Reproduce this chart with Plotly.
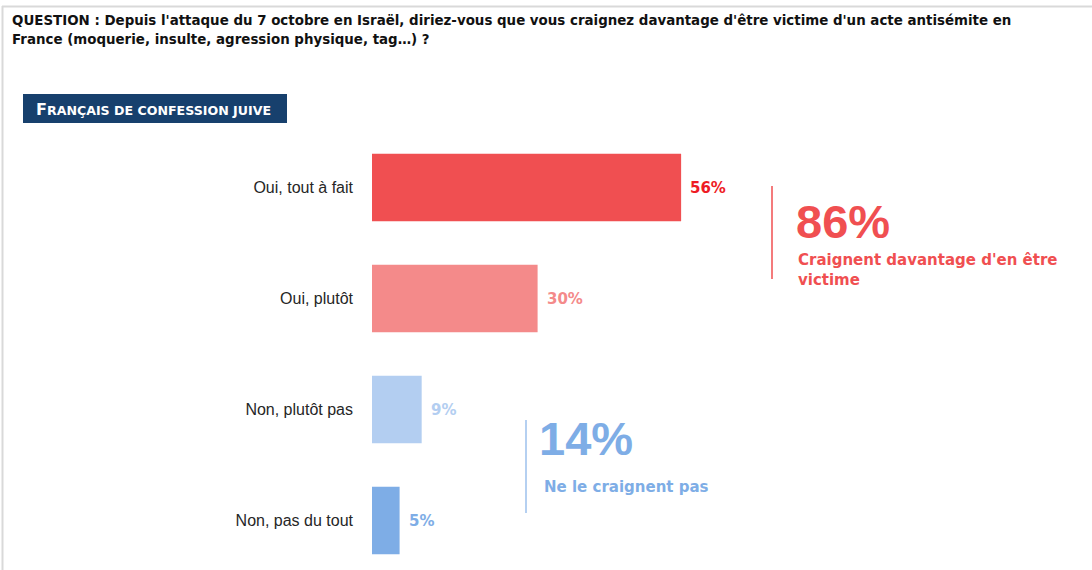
import plotly.graph_objects as go

categories = ["Oui, tout à fait", "Oui, plutôt", "Non, plutôt pas", "Non, pas du tout"]
values = [56, 30, 9, 5]
value_labels = ["56%", "30%", "9%", "5%"]
bar_colors = ["#F04F51", "#F48A8A", "#B3CEF1", "#7EADE6"]
label_colors = ["#EE1C25", "#F48A8A", "#B3CEF1", "#7EADE6"]
summary_values = ["86%", "14%"]
summary_texts = ["Craignent davantage d'en être<br>victime", "Ne le craignent pas"]
title_lines = [
    "QUESTION : Depuis l'attaque du 7 octobre en Israël, diriez-vous que vous craignez davantage d'être victime d'un acte antisémite en",
    "France (moquerie, insulte, agression physique, tag…) ?",
]

W, H = 1092, 570
L, T = 372, 132
PW, PH = W - L, H - T
PX_PER_PCT = 5.52
XMAX = PW / PX_PER_PCT
ROW = 111.0
YMAX = PH / ROW - 0.5


def px(x):
    return (x - L) / PW


def py(y):
    return 1 - (y - T) / PH


FONT = "Liberation Sans, Arial, sans-serif"
GFONT = "DejaVu Sans, Verdana, sans-serif"

fig = go.Figure()
fig.add_trace(go.Bar(
    y=categories, x=values, orientation="h",
    marker=dict(color=bar_colors, line=dict(width=0)),
    width=0.61, hoverinfo="skip",
))

annotations = []
for c, v, t, col in zip(categories, values, value_labels, label_colors):
    annotations.append(dict(
        x=v, y=c, xref="x", yref="y", text="<b>%s</b>" % t, showarrow=False,
        xanchor="left", yanchor="middle", xshift=7,
        font=dict(family=GFONT, size=15, color=col),
    ))

# Title (two lines)
for i, line in enumerate(title_lines):
    annotations.append(dict(
        x=px(10), y=py(20.5 + 19.5 * i), xref="paper", yref="paper", xanchor="left", yanchor="middle",
        align="left", showarrow=False, text="<b>%s</b>" % line,
        font=dict(family=GFONT, size=13.4, color="#111111"),
    ))
# Badge text
annotations.append(dict(
    x=px(34), y=py(109), xref="paper", yref="paper", xanchor="left", yanchor="middle",
    showarrow=False,
    text="<b><span style='font-size:16px'>F</span>RANÇAIS DE CONFESSION JUIVE</b>",
    font=dict(family=GFONT, size=12.6, color="white"),
))
# Summaries
annotations.append(dict(
    x=px(794), y=py(221), xref="paper", yref="paper", xanchor="left", yanchor="middle",
    showarrow=False, text="<b>%s</b>" % summary_values[0],
    font=dict(family=FONT, size=47, color="#F04F51"),
))
annotations.append(dict(
    x=px(796), y=py(270), xref="paper", yref="paper", xanchor="left", yanchor="middle",
    showarrow=False, align="left", text="<b>%s</b>" % summary_texts[0],
    font=dict(family=GFONT, size=15, color="#F04F51"),
))
annotations.append(dict(
    x=px(537), y=py(438), xref="paper", yref="paper", xanchor="left", yanchor="middle",
    showarrow=False, text="<b>%s</b>" % summary_values[1],
    font=dict(family=FONT, size=47, color="#7EADE6"),
))
annotations.append(dict(
    x=px(542), y=py(487), xref="paper", yref="paper", xanchor="left", yanchor="middle",
    showarrow=False, align="left", text="<b>%s</b>" % summary_texts[1],
    font=dict(family=GFONT, size=15, color="#7EADE6"),
))

shapes = [
    # frame
    dict(type="line", xref="paper", yref="paper", x0=px(2), x1=px(1092), y0=py(6.5), y1=py(6.5),
         line=dict(color="#D9D9D9", width=2)),
    dict(type="line", xref="paper", yref="paper", x0=px(2.5), x1=px(2.5), y0=py(6), y1=py(570),
         line=dict(color="#D9D9D9", width=2)),
    # badge
    dict(type="rect", xref="paper", yref="paper", x0=px(23), x1=px(287), y0=py(94), y1=py(123),
         fillcolor="#17406D", line=dict(width=0)),
    # separators
    dict(type="line", xref="paper", yref="paper", x0=px(772), x1=px(772), y0=py(186), y1=py(279),
         line=dict(color="#F04F51", width=1.5)),
    dict(type="line", xref="paper", yref="paper", x0=px(526), x1=px(526), y0=py(420), y1=py(513),
         line=dict(color="#9DC0EC", width=1.5)),
]

fig.update_layout(
    width=W, height=H,
    margin=dict(l=L, r=0, t=T, b=0, pad=0),
    paper_bgcolor="white", plot_bgcolor="white",
    showlegend=False,
    xaxis=dict(range=[0, XMAX], visible=False, fixedrange=True),
    yaxis=dict(range=[YMAX, -0.5], type="category", categoryorder="array",
               categoryarray=categories, showgrid=False, zeroline=False, showline=False,
               ticks="", ticklabelstandoff=18,
               tickfont=dict(family=FONT, size=16, color="#262626"), fixedrange=True),
    annotations=annotations, shapes=shapes,
    font=dict(family=FONT),
)

fig.write_html("out.html", config={"displayModeBar": False},
               post_script="document.body.style.margin='0';document.body.style.overflow='hidden';")
